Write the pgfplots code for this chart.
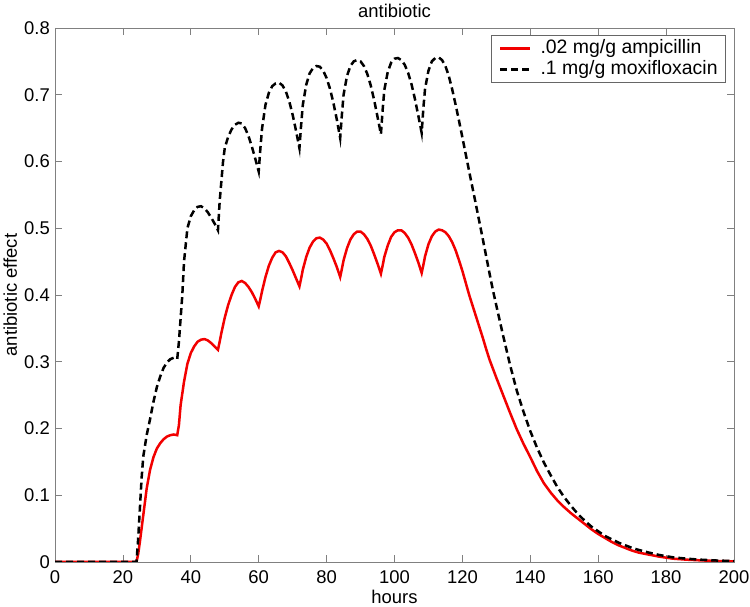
\documentclass[border=0pt]{standalone}
\usepackage{fontspec}
\setmainfont{Liberation Sans}
\usepackage{pgfplots}
\pgfplotsset{compat=1.18}
\definecolor{axgray}{rgb}{0.5,0.5,0.5}
\definecolor{myred}{rgb}{0.95,0,0}
\newcommand{\fs}{\fontsize{18.5}{22}\selectfont}
\newcommand{\fl}{\fontsize{19.5}{23}\selectfont}
\begin{document}
\begin{tikzpicture}
\begin{axis}[name=ax,
  scale only axis, width=679bp, height=534bp,
  xmin=0, xmax=200, ymin=0, ymax=0.8,
  xtick={0,20,...,200},
  ytick={0,0.1,0.2,0.3,0.4,0.5,0.6,0.7,0.8},
  yticklabels={0,0.1,0.2,0.3,0.4,0.5,0.6,0.7,0.8},
  xticklabels={0,20,40,60,80,100,120,140,160,180,200},
  tick align=inside, tick pos=both,
  major tick length=7bp,
  every tick/.style={axgray, line width=0.8bp},
  axis line style={axgray, line width=0.9bp},
  xticklabel style={font=\fs, inner sep=0pt, anchor=base, yshift=-21bp},
  yticklabel style={font=\fs, inner sep=0pt, anchor=east, xshift=-5bp},
  legend style={at={(1,1)}, anchor=north east, xshift=-8bp, yshift=-7bp,
    draw=axgray!80!black, line width=0.8bp, font=\fl, inner xsep=8bp, inner ysep=4.5bp,
    row sep=3.2bp, column sep=9bp,
    nodes={inner sep=0pt, text height=13.5bp, text depth=4bp}},
  legend cell align=left,
  legend image code/.code={\draw[#1] (0bp,0bp) -- (30bp,0bp);},
]
\addplot[myred, line width=2.5bp] coordinates {
(0,0) (24,0) (24.5,0.012) (25,0.03) (26,0.07) (27,0.11) (28,0.138) (29,0.157) (30,0.17) (31,0.178) (32,0.184) (33,0.188) (34,0.19) (35,0.191) (36,0.19)
(36.5,0.205) (37,0.235) (38,0.27) (39,0.297) (40,0.313) (41,0.323) (42,0.33) (43,0.333) (44,0.334) (45,0.332) (46,0.328) (47,0.323) (48,0.318)
(48.5,0.33) (49,0.343) (50,0.366) (51,0.385) (52,0.4) (53,0.412) (54,0.419) (55,0.421) (56,0.418) (57,0.412) (58,0.404) (59,0.394) (60,0.383)
(60.5,0.394) (61,0.406) (62,0.427) (63,0.444) (64,0.456) (65,0.464) (66,0.466) (67,0.464) (68,0.458) (69,0.448) (70,0.437) (71,0.425) (72,0.413)
(72.5,0.425) (73,0.438) (74,0.457) (75,0.471) (76,0.48) (77,0.485) (78,0.486) (79,0.483) (80,0.477) (81,0.467) (82,0.455) (83,0.442) (84,0.427)
(84.5,0.439) (85,0.452) (86,0.47) (87,0.483) (88,0.491) (89,0.495) (90,0.495) (91,0.491) (92,0.484) (93,0.474) (94,0.461) (95,0.447) (96,0.432)
(96.5,0.444) (97,0.457) (98,0.474) (99,0.487) (100,0.494) (101,0.497) (102,0.497) (103,0.493) (104,0.486) (105,0.476) (106,0.463) (107,0.449) (108,0.433)
(108.5,0.445) (109,0.458) (110,0.476) (111,0.488) (112,0.495) (113,0.498) (114,0.497) (115,0.494) (116,0.488) (117,0.479) (118,0.467) (119,0.452) (120,0.436)
(121,0.418) (122,0.4) (123,0.384) (124,0.368) (125,0.352) (126,0.336) (127,0.319) (128,0.303) (130,0.276) (132,0.25) (134,0.224) (136,0.199)
(138,0.177) (140,0.157) (142,0.136) (144,0.118) (146,0.104) (148,0.092) (150,0.082) (152,0.073) (154,0.065) (156,0.057) (158,0.049) (160,0.042)
(162,0.036) (164,0.03) (166,0.025) (168,0.021) (170,0.017) (172,0.014) (175,0.011) (178,0.008) (182,0.005) (186,0.0035) (190,0.0025) (195,0.0015) (200,0.001)
};
\addlegendentry{.02 mg/g ampicillin}
\addplot[black, line width=2.5bp, dash pattern=on 7bp off 4bp] coordinates {
(0,0) (24,0) (24.5,0.035) (25,0.08) (25.5,0.125) (26,0.158) (27,0.19) (28,0.214) (29,0.24) (30,0.262) (31,0.278) (32,0.291) (33,0.299) (34,0.304) (35,0.306) (36,0.304)
(36.5,0.33) (37,0.365) (37.5,0.4) (38,0.45) (39,0.5) (40,0.518) (41,0.527) (42,0.532) (43,0.533) (44,0.53) (45,0.524) (46,0.516) (47,0.507) (48,0.497)
(48.5,0.54) (49,0.57) (49.5,0.6) (50,0.62) (51,0.637) (52,0.648) (53,0.655) (54,0.658) (55,0.657) (56,0.65) (57,0.638) (58,0.622) (59,0.604) (60,0.585)
(60.5,0.62) (61,0.65) (62,0.685) (63,0.703) (64,0.713) (65,0.717) (66,0.718) (67,0.714) (68,0.705) (69,0.69) (70,0.67) (71,0.646) (72,0.62)
(72.5,0.655) (73,0.685) (74,0.715) (75,0.732) (76,0.74) (77,0.743) (78,0.742) (79,0.736) (80,0.725) (81,0.709) (82,0.688) (83,0.663) (84,0.635)
(84.5,0.67) (85,0.7) (86,0.728) (87,0.743) (88,0.75) (89,0.752) (90,0.75) (91,0.743) (92,0.731) (93,0.714) (94,0.692) (95,0.667) (96,0.641)
(96.5,0.677) (97,0.707) (98,0.734) (99,0.748) (100,0.754) (101,0.755) (102,0.752) (103,0.745) (104,0.733) (105,0.716) (106,0.694) (107,0.669) (108,0.643)
(108.5,0.68) (109,0.709) (110,0.736) (111,0.75) (112,0.755) (113,0.756) (114,0.752) (115,0.743) (116,0.728) (117,0.708) (118,0.685) (119,0.661) (120,0.636)
(122,0.585) (124,0.535) (126,0.484) (128,0.432) (129,0.407) (130,0.384) (132,0.339) (134,0.296) (136,0.257) (138,0.225) (140,0.196) (142,0.171)
(144,0.149) (146,0.13) (148,0.112) (150,0.097) (152,0.084) (154,0.072) (156,0.062) (158,0.053) (160,0.046) (162,0.039) (164,0.034) (166,0.029)
(168,0.025) (170,0.021) (172,0.018) (175,0.014) (178,0.0105) (182,0.007) (186,0.005) (190,0.0035) (195,0.0022) (200,0.0014)
};
\addlegendentry{.1 mg/g moxifloxacin}
\end{axis}
\node[font=\fs, anchor=base] at ([yshift=10bp]ax.north) {antibiotic};
\node[font=\fs, anchor=base] at ([yshift=-41bp]ax.south) {hours};
\node[font=\fs, anchor=base, rotate=90] at ([xshift=-38bp]ax.west) {antibiotic effect};
\pgfresetboundingbox
\path[use as bounding box] ([xshift=-55bp,yshift=-45bp]ax.south west) rectangle ([xshift=16bp,yshift=28bp]ax.north east);
\end{tikzpicture}
\end{document}
